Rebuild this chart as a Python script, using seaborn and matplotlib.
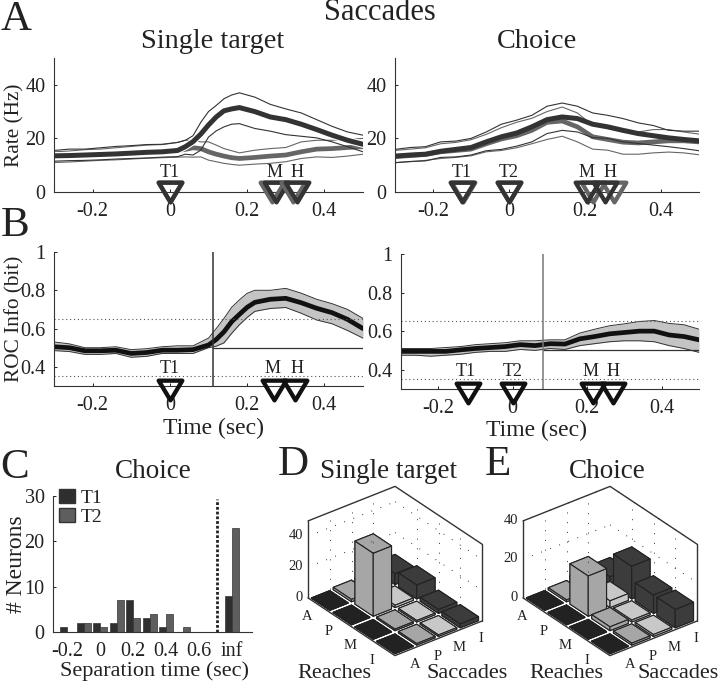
import numpy as np
import pandas as pd
import matplotlib
matplotlib.use("Agg")
import matplotlib.pyplot as plt
import matplotlib.patheffects as pe
from matplotlib.markers import MarkerStyle
from matplotlib.path import Path
from matplotlib.patches import Patch
from mpl_toolkits.mplot3d import proj3d
import seaborn as sns

# time base of the traces (sec)
time = [-0.30, -0.26, -0.22, -0.18, -0.14, -0.10, -0.06, -0.02, 0.02, 0.06, 0.10,
        0.14, 0.18, 0.22, 0.26, 0.30, 0.34, 0.38, 0.42, 0.46, 0.50]
# the fast rises are read more finely
a1_time = [-0.30, -0.26, -0.22, -0.18, -0.14, -0.10, -0.06, -0.02, 0.02, 0.04, 0.06, 0.08, 0.10,
           0.12, 0.14, 0.16, 0.18, 0.22, 0.26, 0.30, 0.34, 0.38, 0.42, 0.46, 0.50]
b1_time = [-0.30, -0.26, -0.22, -0.18, -0.14, -0.10, -0.06, -0.02, 0.02, 0.06, 0.10,
           0.12, 0.14, 0.16, 0.18, 0.20, 0.22, 0.26, 0.30, 0.34, 0.38, 0.42, 0.46, 0.50]

# A, single target
a1_t1_mean = [13.5, 13.6, 13.8, 14, 14.2, 14.5, 14.8, 15, 15.5, 16.9, 18.8, 21.6, 25, 28, 30.3, 31, 31.5, 30, 28, 27, 25.3, 23.3, 21.2, 19.3, 17.8]
a1_t1_up = [15.5, 16, 16, 16.5, 17, 17.3, 17.7, 17.8, 18.5, 19.3, 21, 26, 30, 32.3, 34.8, 36.2, 37, 35.4, 32.7, 31, 29.5, 27, 24.5, 22.4, 21.2]
a1_t1_lo = [11.5, 11.7, 11.8, 12, 12.3, 12.5, 12.7, 13, 13.2, 14.1, 13.8, 15.6, 20.5, 22.8, 24.3, 25.3, 25.5, 23.7, 22.7, 21.4, 20.8, 20.2, 18.7, 16.9, 15]
a1_t2_mean = [13.2, 13.4, 13.7, 14, 14.2, 14.5, 14.8, 15, 15.5, 15.9, 16.5, 16.2, 15, 14.1, 13.4, 12.8, 12.5, 12.9, 13.4, 13.8, 15, 16, 16.2, 16.6, 16.9]
a1_t2_up = [15, 15.3, 15.8, 16, 16.5, 17, 17.5, 17.7, 18.5, 19.3, 19.3, 18.7, 18.7, 17.5, 16.2, 15.4, 14.6, 15.6, 16.2, 16.6, 18.7, 19.3, 19.3, 19.6, 20]
a1_t2_lo = [11, 11.2, 11.5, 11.8, 12, 12.3, 12.6, 12.8, 13, 13.1, 13, 13.1, 11.9, 11.3, 10.7, 10.3, 10, 10.4, 10.7, 11.3, 12.5, 13.1, 12.9, 13.4, 14.1]

# A, choice
a2_t1_mean = [13.4, 13.8, 14.1, 15.2, 15.9, 16.6, 18.7, 20.6, 22, 24.3, 27, 28, 27.4, 25.3, 24.3, 23, 21.8, 21, 20.2, 19.6, 19.1]
a2_t1_up = [15.9, 16.6, 16.9, 18.7, 19, 20, 22.4, 25.3, 26.8, 28.6, 32, 33.2, 32, 29.5, 28.6, 27.4, 25.8, 24.8, 23, 22.7, 22.7]
a2_t1_lo = [10.9, 11.4, 11.6, 12.9, 13.1, 13.8, 15.4, 15.9, 17.1, 18.7, 21.8, 23, 22.4, 20.3, 20, 18.7, 18.1, 17.5, 16.9, 16.2, 15.4]
a2_t2_mean = [13.2, 13.6, 14, 15, 15.5, 16, 18, 19.8, 21, 23, 26, 26.5, 24.3, 20.6, 19.6, 18.6, 18.3, 18.7, 19.1, 19.1, 18.7]
a2_t2_up = [15.5, 16, 16.5, 18, 18.5, 19.5, 21.5, 24, 26, 27.5, 30, 31.7, 29.5, 24.9, 23.7, 22.4, 22.4, 23.3, 23.3, 22.4, 21.6]
a2_t2_lo = [11, 11.3, 11.8, 12.5, 12.9, 13.5, 15, 15.5, 16.5, 18, 19.6, 20.8, 18.7, 16, 15.6, 14.1, 14.1, 14.6, 14.9, 14.6, 13.9]

# B, ROC info with band
b1_mean = [.505, .50, .484, .484, .487, .47, .475, .487, .487, .49, .514, .543, .583, .636, .674, .711, .737, .753, .758, .735, .706, .683, .648, .60]
b1_up = [.53, .52, .50, .50, .505, .49, .495, .505, .51, .51, .55, .60, .653, .711, .75, .784, .80, .80, .81, .785, .753, .73, .70, .653]
b1_lo = [.485, .48, .465, .465, .47, .45, .455, .47, .47, .47, .50, .508, .525, .575, .62, .658, .69, .705, .71, .68, .645, .625, .59, .55]
b2_mean = [.495, .495, .495, .495, .503, .51, .515, .52, .53, .525, .535, .533, .56, .572, .586, .593, .60, .60, .58, .572, .555]
b2_up = [.51, .51, .51, .515, .52, .53, .535, .54, .55, .55, .555, .555, .59, .61, .628, .638, .65, .655, .64, .633, .61]
b2_lo = [.475, .475, .47, .475, .48, .49, .495, .495, .505, .50, .51, .505, .525, .535, .545, .55, .55, .545, .525, .51, .49]

# event markers: name, time of first and second condition
a1_events = [("T1", 0.0, 0.0), ("M", 0.275, 0.265), ("H", 0.33, 0.32)]
a2_events = [("T1", -0.125, -0.12), ("T2", 0.0, 0.0), ("M", 0.205, 0.22), ("H", 0.253, 0.275)]
b1_events = [("T1", 0.0), ("M", 0.27), ("H", 0.325)]
b2_events = [("T1", -0.12), ("T2", 0.0), ("M", 0.215), ("H", 0.268)]

# C, histogram
sep_bins = ["-0.2", "-0.1", "0", "0.1", "0.2", "0.3", "0.4", "0.5", "0.6", "0.7", "inf"]
sep_t1 = [1, 2, 2, 2, 7, 3, 1, 0, 0, 0, 8]
sep_t2 = [0, 2, 1, 7, 3, 4, 4, 1, 0, 0, 23]

# D, E: rows are reach classes, columns saccade classes
classes = ["A", "P", "M", "I"]
d_counts = [[0.3, 1.5, 2, 7], [0.3, 41, 1.5, 9], [0.3, 1, 1, 2.5], [0.3, 1, 1, 2.5]]
e_counts = [[0.3, 1, 3, 4], [0.3, 21, 3.5, 17], [0.3, 2, 1, 9.5], [0.3, 1, 1, 9.5]]

sns.set_style("ticks")
plt.rcParams["font.family"] = ["Liberation Serif", "DejaVu Serif"]
plt.rcParams["text.color"] = "#222222"
plt.rcParams["axes.labelcolor"] = "#222222"
plt.rcParams["xtick.color"] = "#222222"
plt.rcParams["ytick.color"] = "#222222"
plt.rcParams["axes.edgecolor"] = "#333333"
plt.rcParams["lines.solid_joinstyle"] = "round"

W, H = 720, 684
DARK = "#333333"
GRAY = "#666666"

fig = plt.figure(figsize=(W / 100, H / 100), dpi=100)


def px_axes(left, top, right, bottom, **kw):
    return fig.add_axes([left / W, 1 - bottom / H, (right - left) / W, (bottom - top) / H], **kw)


def px_text(x, y, s, size, **kw):
    fig.text(x / W, 1 - y / H, s, fontsize=size, ha="center", va="center", **kw)


def style_axes(ax):
    sns.despine(ax=ax)
    ax.tick_params(direction="in", length=2.5, width=0.7, labelsize=14.5, pad=7)
    ax.tick_params(axis="y", pad=6)
    ax.spines["left"].set_linewidth(0.8)
    ax.spines["bottom"].set_linewidth(0.8)


tri = MarkerStyle(Path([(-1.2, 1), (1.2, 1), (0, -1), (-1.2, 1)], closed=True), joinstyle="miter")


def triangle(ax, t, y, color, size=17, mew=3.1, zorder=6):
    ax.plot([t], [y], marker=tri, ms=size, mfc="none", mec=color, mew=mew,
            clip_on=False, ls="none", zorder=zorder)


def rate_panel(ax, t, traces, events, label_x):
    for vals, color, lw in traces:
        sns.lineplot(x=t, y=vals, color=color, linewidth=lw, errorbar=None, ax=ax)
    ax.set_xlim(-0.3, 0.5)
    ax.set_ylim(0, 50)
    ax.set_xticks([-0.2, 0, 0.2, 0.4], ["-0.2", "0", "0.2", "0.4"])
    ax.set_yticks([0, 20, 40])
    style_axes(ax)
    for (name, t1, t2), lx in zip(events, label_x):
        triangle(ax, t2, 0, GRAY)
        triangle(ax, t1, 0, DARK)
        ax.text(lx, 7.3, name, fontsize=13, ha="center", va="center")


def roc_panel(ax, t_base, mean, up, lo, events, cut, cut_color, label_x):
    ax.fill_between(t_base, lo, up, color="#c4c4c4", lw=0)
    sns.lineplot(x=t_base, y=up, color="#333333", linewidth=0.7, errorbar=None, ax=ax)
    sns.lineplot(x=t_base, y=lo, color="#333333", linewidth=0.7, errorbar=None, ax=ax)
    sns.lineplot(x=t_base, y=mean, color="#111111", linewidth=3.4, errorbar=None, ax=ax)
    ax.axhline(0.65, color="#555555", lw=0.8, ls=(0, (1, 2.5)))
    ax.axhline(0.35, color="#555555", lw=0.8, ls=(0, (1, 2.5)))
    ax.plot([cut, 0.5], [0.5, 0.5], color="#333333", lw=0.9)
    ax.axvline(cut, color=cut_color, lw=1.1)
    ax.set_xlim(-0.3, 0.5)
    ax.set_ylim(0.3, 1)
    ax.set_xticks([-0.2, 0, 0.2, 0.4], ["-0.2", "0", "0.2", "0.4"])
    ax.set_yticks([0.4, 0.6, 0.8, 1.0], ["0.4", "0.6", "0.8", "1"])
    style_axes(ax)
    for (name, t), lx in zip(events, label_x):
        triangle(ax, t, 0.28, "#111111")
        ax.text(lx, 0.39, name, fontsize=13, ha="center", va="center")


# A
ax_a1 = px_axes(54, 58, 363, 192)
rate_panel(ax_a1, a1_time,
           [(a1_t2_up, GRAY, 0.8), (a1_t2_lo, GRAY, 0.8), (a1_t2_mean, GRAY, 3.4),
            (a1_t1_up, DARK, 0.8), (a1_t1_lo, DARK, 0.8), (a1_t1_mean, DARK, 3.6)],
           a1_events, [0.0, 0.27, 0.33])
ax_a1.lines[5].set_path_effects([pe.Stroke(linewidth=5.2, foreground="white"), pe.Normal()])
ax_a1.set_ylabel("Rate (Hz)", fontsize=15.3)
ax_a1.yaxis.set_label_coords(-30 / 309, 0.5)

ax_a2 = px_axes(395, 58, 699, 192)
rate_panel(ax_a2, time,
           [(a2_t2_up, GRAY, 0.8), (a2_t2_lo, GRAY, 0.8), (a2_t2_mean, GRAY, 3.4),
            (a2_t1_up, DARK, 0.8), (a2_t1_lo, DARK, 0.8), (a2_t1_mean, DARK, 3.6)],
           a2_events, [-0.125, 0.0, 0.205, 0.265])

# B
ax_b1 = px_axes(54, 252, 363, 386)
roc_panel(ax_b1, b1_time, b1_mean, b1_up, b1_lo, b1_events, 0.111, "#333333", [0.0, 0.265, 0.33])
ax_b1.set_ylabel("ROC Info (bit)", fontsize=15.3)
ax_b1.yaxis.set_label_coords(-30 / 309, 0.5)
ax_b1.set_xlabel("Time (sec)", fontsize=17)
ax_b1.xaxis.set_label_coords(0.515, -0.24)

ax_b2 = px_axes(401, 254, 699, 389)
roc_panel(ax_b2, time, b2_mean, b2_up, b2_lo, b2_events, 0.08, "#777777", [-0.125, 0.0, 0.21, 0.268])
ax_b2.set_xlabel("Time (sec)", fontsize=17)
ax_b2.xaxis.set_label_coords(0.456, -0.23)

# C
ax_c = px_axes(53, 496, 252, 632)
hist = pd.DataFrame({"bin": sep_bins * 2, "count": sep_t1 + sep_t2,
                     "target": ["T1"] * len(sep_bins) + ["T2"] * len(sep_bins)})
sns.barplot(data=hist, x="bin", y="count", hue="target", order=sep_bins,
            palette={"T1": "#2f2f2f", "T2": "#5e5e5e"}, edgecolor="#333333", linewidth=0.5,
            width=0.85, legend=False, ax=ax_c)
ax_c.axvline(9.1, color="#222222", lw=2, ls=(0, (1, 0.7)), ymax=0.98)
ax_c.set_xlim(-0.85, 11.2)
ax_c.set_ylim(0, 30)
ax_c.set_xticks([0, 2, 4, 6, 8, 10], ["-0.2", "0", "0.2", "0.4", "0.6", "inf"])
ax_c.set_yticks([0, 10, 20, 30])
style_axes(ax_c)
ax_c.tick_params(axis="x", length=0)
ax_c.set_xlabel("Separation time (sec)", fontsize=16)
ax_c.xaxis.set_label_coords(0.51, -0.215)
ax_c.set_ylabel("# Neurons", fontsize=17)
ax_c.yaxis.set_label_coords(-26 / 199, 0.5)
ax_c.legend(handles=[Patch(fc="#2f2f2f", ec="#333333", label="T1"), Patch(fc="#5e5e5e", ec="#333333", label="T2")],
            frameon=False, loc="upper left", bbox_to_anchor=(0.03, 1.05), fontsize=14,
            handlelength=0.8, handleheight=0.75, handletextpad=0.3, labelspacing=0.05, borderpad=0, borderaxespad=0)


def label_3d(ax, x, y, z, s, ha="center"):
    # 2D text at the projected spot of a 3D point
    px, py, _ = proj3d.proj_transform(x, y, z, ax.get_proj())
    ax.text2D(px, py, s, transform=ax.transData, fontsize=10.5, ha=ha, va="center")


# D, E
def bars_3d(center_x, center_y, counts, top, zticks):
    side = 195
    left = center_x - 0.5135 * side
    bottom = H - center_y - 0.5135 * side
    ax = fig.add_axes([left / W, bottom / H, side / W, side / H], projection="3d")
    ax.set_proj_type("ortho")
    ax.view_init(elev=30.9, azim=-37.7)
    ax.set_box_aspect((425, 329, 268))
    ax.set_xlim(0, 4)
    ax.set_ylim(0, 4)
    ax.set_zlim(0, top)
    ax.set_xticks([])
    ax.set_yticks([])
    ax.set_zticks([])
    ax.set_axis_off()
    ax.patch.set_alpha(0)
    ax.computed_zorder = False

    line = dict(color="#333333", lw=1.0)
    dots = dict(color="#333333", lw=0.7, ls=(0, (1, 9)))
    # back walls
    for z in zticks[1:]:
        ax.plot([0, 0], [0, 4], [z, z], **dots)
        ax.plot([0, 4], [4, 4], [z, z], **dots)
    for k in range(1, 4):
        ax.plot([0, 0], [k, k], [0, top], **dots)
        ax.plot([k, k], [4, 4], [0, top], **dots)
    ax.plot([0, 0, 4], [0, 4, 4], [top, top, top], **line)
    ax.plot([0, 0], [0, 0], [0, top], **line)
    ax.plot([4, 4], [4, 4], [0, top], **line)
    ax.plot([0, 4, 4], [0, 0, 4], [0, 0, 0], **line)

    # painter's order, back cells first
    for i in range(4):
        for j in range(3, -1, -1):
            col = ["#222222", "#a6a6a6", "#c8c8c8", "#3c3c3c"][j]
            ax.bar3d(i + 0.08, j + 0.08, 0, 0.84, 0.84, counts[i][j], color=col,
                     edgecolor="#222222", linewidth=0.8, shade=False)

    for z in zticks:
        label_3d(ax, -0.12, -0.12, z, str(z), ha="right")
    for i, name in enumerate(classes):
        label_3d(ax, i + 0.5, -0.55, -top * 0.09, name)
        label_3d(ax, 4.45, i + 0.5, -top * 0.09, name)
    return ax


ax_d = bars_3d(395, 571, d_counts, 50, [0, 20, 40])
ax_e = bars_3d(610, 571, e_counts, 40, [0, 20, 40])

# titles and panel letters
px_text(380, 12, "Saccades", 22)
px_text(213, 41, "Single target", 20.3)
px_text(537, 41, "Choice", 20.3)
px_text(153, 471, "Choice", 19.5)
px_text(388, 471, "Single target", 19.5)
px_text(607, 471, "Choice", 19.5)
px_text(334, 673, "Reaches", 16)
px_text(467, 673, "Saccades", 16)
px_text(566, 673, "Reaches", 16)
px_text(678, 673, "Saccades", 16)
px_text(16, 20, "A", 31)
px_text(15, 226, "B", 31)
px_text(15, 468, "C", 31)
px_text(293, 465, "D", 31)
px_text(498, 465, "E", 31)

fig.savefig("out.png", dpi=100)
